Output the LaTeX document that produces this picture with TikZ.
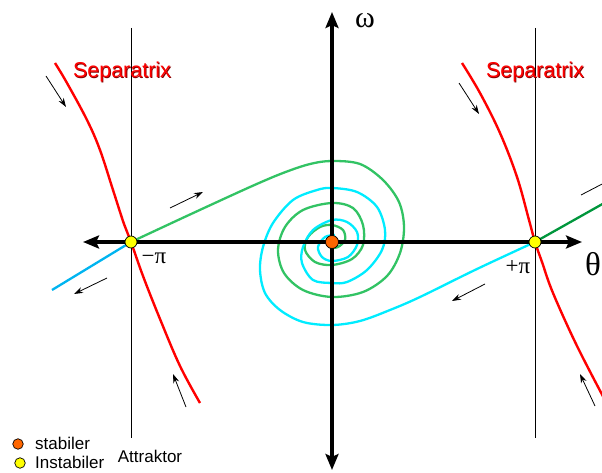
\documentclass[tikz,border=0pt]{standalone}
\usepackage{fontspec}
\setmainfont{Liberation Sans}
\newfontfamily\greekfont{Liberation Serif}
\usetikzlibrary{arrows.meta}
\definecolor{sepred}{RGB}{255,0,0}
\definecolor{sepshadow}{RGB}{130,0,0}
\definecolor{trajgreen}{RGB}{50,195,100}
\definecolor{darkgreen}{RGB}{0,150,60}
\definecolor{trajcyan}{RGB}{0,236,255}
\definecolor{skyline}{RGB}{0,180,240}
\definecolor{stabfill}{RGB}{255,102,0}
\definecolor{unstabfill}{RGB}{255,255,0}
\tikzset{
  axisline/.style={line width=3.5pt, {Stealth[length=16pt,width=13pt,inset=3pt]}-{Stealth[length=16pt,width=13pt,inset=3pt]}},
  thinline/.style={line width=0.9pt, black},
  flowarrow/.style={line width=0.8pt, -{Stealth[length=9pt,width=6pt]}},
  sepcurve/.style={line width=2.4pt, sepred},
  greentraj/.style={line width=2.3pt, trajgreen},
  cyantraj/.style={line width=2.3pt, trajcyan},
  stabdot/.style={circle, draw=black, line width=0.7pt, fill=stabfill, minimum size=13pt, inner sep=0pt},
  unstabdot/.style={circle, draw=black, line width=0.7pt, fill=unstabfill, minimum size=12pt, inner sep=0pt},
  legdot/.style={circle, draw=black, line width=0.7pt, minimum size=10.5pt, inner sep=0pt},
  legtext/.style={inner sep=0pt, font=\fontsize{17}{20}\selectfont},
  septext/.style={inner sep=0pt, font=\fontsize{21.5}{24}\selectfont},
  greektext/.style={inner sep=0pt, font=\greekfont\fontsize{23}{26}\selectfont},
}
\begin{document}
\begin{tikzpicture}[x=1pt,y=-1pt]
\useasboundingbox (0,0) rectangle (602,473);
\clip (0,0) rectangle (602,473);
% key points
\coordinate (O) at (332,242);
\coordinate (Lp) at (131,242);
\coordinate (Rp) at (535,242);
\coordinate (axL) at (83,242);
\coordinate (axR) at (582,242);
\coordinate (axT) at (332,12);
\coordinate (axB) at (332,470);
\coordinate (vLt) at (131,28);
\coordinate (vLb) at (131,438);
\coordinate (vRt) at (535,28);
\coordinate (vRb) at (535,438);
\coordinate (cyanEnd) at (52,290);
\coordinate (dgEnd) at (606,202);
% thin vertical lines
\draw[thinline] (vLt) -- (vLb);
\draw[thinline] (vRt) -- (vRb);
% separatrices
\draw[sepcurve] plot[smooth, tension=0.6] coordinates {(55,63) (67,83) (87,120) (100,150) (113,190) (124,224) (131,242) (143,276) (160,319) (180,366) (200,403)};
\draw[sepcurve] plot[smooth, tension=0.6] coordinates {(462,63) (480,93) (500,133) (517,177) (529,220) (535,242) (542,262) (553,293) (577,346) (606,402)};
% unstable manifold outer pieces
\draw[line width=2.3pt, skyline] (Lp) -- (cyanEnd);
\draw[line width=2.3pt, darkgreen] (Rp) -- (dgEnd);
% spiral trajectories
\draw[greentraj] plot[smooth, tension=0.55] coordinates {(131,242) (190,214.5) (250,187) (283,173) (310,164) (332,161) (360,164) (383,180) (399,202) (404,227) (400,253) (387,276) (363,292) (332,297) (303,290) (284,273) (278,250) (285,227) (303,210) (332,203) (353,208) (363,225) (363,245) (352,259) (332,265) (315,262) (305,250) (308,237) (320,227) (332,225) (343,230) (345,240) (338,247) (330,248)};
\draw[cyantraj] plot[smooth, tension=0.55] coordinates {(535,242) (477,269) (420,297) (390,310) (360,321) (332,325) (303,322) (280,310) (265,293) (260,270) (263,247) (273,223) (293,200) (317,190) (332,188) (357,192) (377,207) (385,230) (382,250) (367,270) (347,282) (332,283) (313,280) (302,263) (303,247) (313,230) (332,220) (347,222) (357,232) (357,245) (348,257) (332,261) (322,257) (318,247) (325,237) (335,235)};
% axes
\draw[axisline] (axL) -- (axR);
\draw[axisline] (axB) -- (axT);
% flow arrows
\coordinate (a1s) at (46,76);   \coordinate (a1e) at (66,107);
\coordinate (a2s) at (459,83);  \coordinate (a2e) at (479,114);
\coordinate (a3s) at (186,407); \coordinate (a3e) at (173,374);
\coordinate (a4s) at (595,406); \coordinate (a4e) at (580,374);
\coordinate (a5s) at (170,208); \coordinate (a5e) at (203,192);
\coordinate (a6s) at (107,278); \coordinate (a6e) at (74,294);
\coordinate (a7s) at (485,284); \coordinate (a7e) at (452,301);
\coordinate (a8s) at (581,195); \coordinate (a8e) at (606,182);
\draw[flowarrow] (a1s) -- (a1e);
\draw[flowarrow] (a2s) -- (a2e);
\draw[flowarrow] (a3s) -- (a3e);
\draw[flowarrow] (a4s) -- (a4e);
\draw[flowarrow] (a5s) -- (a5e);
\draw[flowarrow] (a6s) -- (a6e);
\draw[flowarrow] (a7s) -- (a7e);
\draw[line width=0.8pt] (a8s) -- (a8e);
% equilibria
\node[stabdot] (center) at (O) {};
\node[unstabdot] (leftsaddle) at (Lp) {};
\node[unstabdot] (rightsaddle) at (Rp) {};
% labels
\node[septext, text=sepshadow] (sepLs) at (122.8,72.8) {Separatrix};
\node[septext, text=sepred] (sepL) at (122,72) {Separatrix};
\node[septext, text=sepshadow] (sepRs) at (535.8,72.8) {Separatrix};
\node[septext, text=sepred] (sepR) at (535,72) {Separatrix};
\node[inner sep=0pt, font=\greekfont\fontsize{30}{34}\selectfont] (omega) at (365,21) {ω};
\node[inner sep=0pt, font=\greekfont\fontsize{33}{36}\selectfont] (theta) at (593,264) {θ};
\node[greektext] (mpi) at (154,258) {−π};
\node[greektext] (ppi) at (518,267) {+π};
% legend
\node[legdot, fill=stabfill] (legstab) at (18,444) {};
\node[legdot, fill=unstabfill] (legunstab) at (20,463) {};
\node[legtext, anchor=west] (stabtxt) at (35,443) {stabiler};
\node[legtext, anchor=west] (unstabtxt) at (35,462.5) {Instabiler};
\node[legtext] (attr) at (150,456) {Attraktor};
\end{tikzpicture}
\end{document}
